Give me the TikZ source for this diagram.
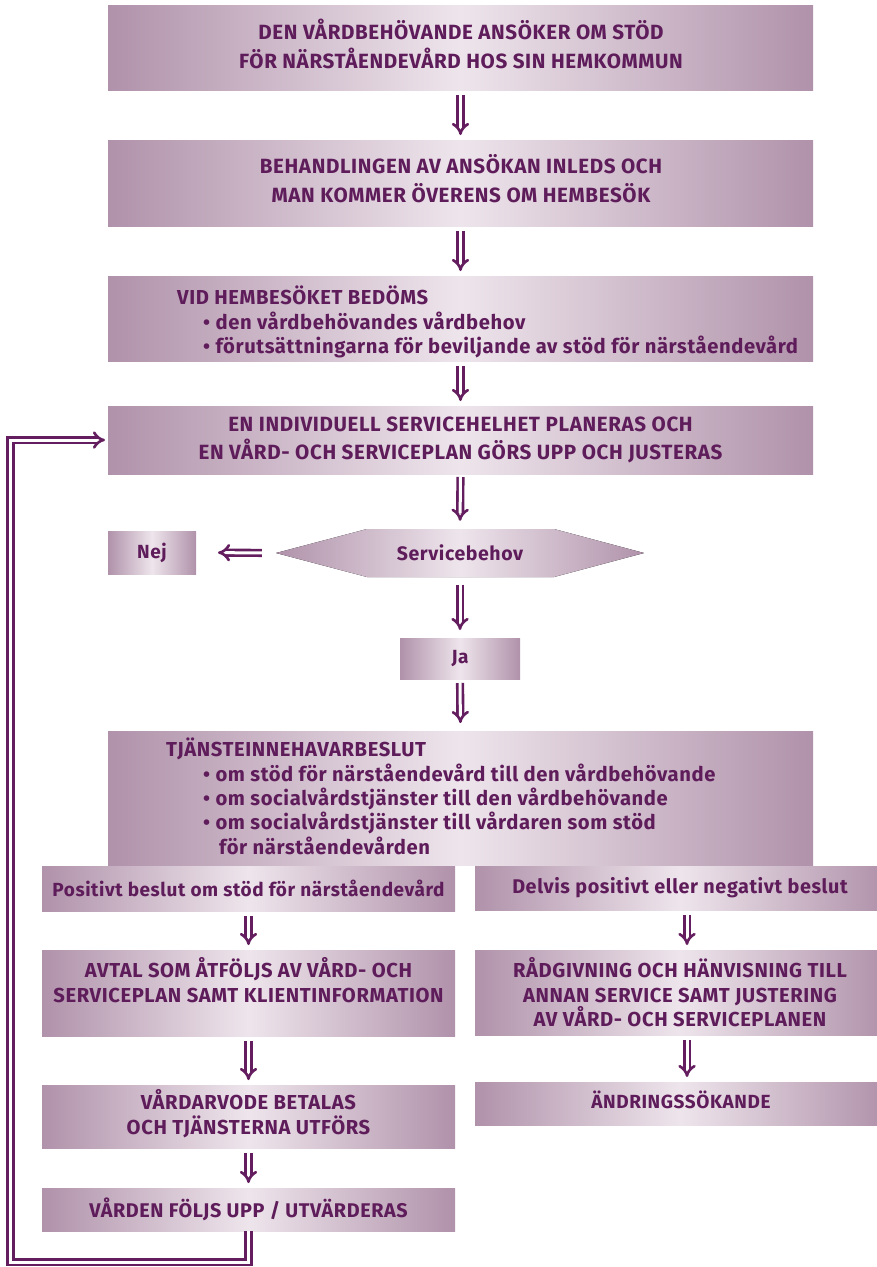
\documentclass[tikz,border=0pt]{standalone}
\usepackage{fontspec}
\setmainfont{Fira Sans}[LetterSpace=3]
\usetikzlibrary{arrows.meta}
\definecolor{txt}{RGB}{94,28,90}
\definecolor{edge}{RGB}{176,146,170}
\definecolor{mid}{RGB}{238,229,236}
\definecolor{arr}{RGB}{100,30,95}
\begin{document}
\begin{tikzpicture}[x=1pt,y=-1pt,
  box/.style={rectangle, inner sep=0pt, outer sep=0pt, anchor=north west,
    left color=edge, right color=edge, middle color=mid,
    text=txt, font=\bfseries\fontsize{19}{29}\selectfont, align=center},
  ctxt/.style={inner sep=0pt, text=txt, align=center},
  big/.style={font=\bfseries\fontsize{20.6}{29}\selectfont},
  lbl/.style={inner sep=0pt, text=txt, font=\bfseries\fontsize{20.2}{24.3}\selectfont, align=left, anchor=north west},
  dbl/.style={draw=arr, double=white, double distance=3pt, line width=2.6pt,
    -{Implies[length=7pt,width=17pt]}, shorten <=5pt, shorten >=5pt}]
\useasboundingbox (0,0) rectangle (877,1267);

% main column
\node[box, minimum width=705pt, minimum height=85pt] (b1) at (108,5) {};
\node[ctxt, big] (b1t) at (461,44)
  {DEN VÅRDBEHÖVANDE ANSÖKER OM STÖD\\FÖR NÄRSTÅENDEVÅRD HOS SIN HEMKOMMUN};
\node[box, minimum width=705pt, minimum height=86pt] (b2) at (108,140) {};
\node[ctxt, big] (b2t) at (461,179)
  {BEHANDLINGEN AV ANSÖKAN INLEDS OCH\\MAN KOMMER ÖVERENS OM HEMBESÖK};
\node[box, minimum width=705pt, minimum height=85pt] (b3) at (108,276) {};
\node[lbl] (t3) at (177,286)
  {VID HEMBESÖKET BEDÖMS\\
   \hspace*{26pt}• den vårdbehövandes vårdbehov\\
   \hspace*{26pt}• förutsättningarna för beviljande av stöd för närståendevård};
\node[box, font=\bfseries\fontsize{20.6}{28}\selectfont, minimum width=705pt, minimum height=68pt] (b4) at (108,406)
  {EN INDIVIDUELL SERVICEHELHET PLANERAS OCH\\EN VÅRD- OCH SERVICEPLAN GÖRS UPP OCH JUSTERAS};

% decision
\fill[left color=edge, right color=edge, middle color=mid]
  (276,553) -- (367,529) -- (554,529) -- (644,553) -- (554,577) -- (367,577) -- cycle;
\node[inner sep=0pt, minimum width=368pt, minimum height=48pt, text=txt,
  font=\bfseries\fontsize{19.5}{24}\selectfont] (sb) at (460,553) {Servicebehov};
\node[box, minimum width=88pt, minimum height=43pt] (nej) at (108,531) {Nej};
\node[box, minimum width=120pt, minimum height=41pt] (ja) at (400,638) {Ja};

\node[box, minimum width=705pt, minimum height=134pt] (b5) at (108,731) {};
\node[lbl] (t5) at (166,738)
  {TJÄNSTEINNEHAVARBESLUT\\
   \hspace*{37pt}• om stöd för närståendevård till den vårdbehövande\\
   \hspace*{37pt}• om socialvårdstjänster till den vårdbehövande\\
   \hspace*{37pt}• om socialvårdstjänster till vårdaren som stöd\\
   \hspace*{53pt}för närståendevården};

% left column
\node[box, minimum width=413pt, minimum height=45pt] (l1) at (42,866)
  {Positivt beslut om stöd för närståendevård};
\node[box, minimum width=413pt, minimum height=86pt] (l2) at (42,950) {};
\node[ctxt, font=\bfseries\fontsize{20.2}{25}\selectfont] (l2t) at (248.5,980)
  {AVTAL SOM ÅTFÖLJS AV VÅRD- OCH\\SERVICEPLAN SAMT KLIENTINFORMATION};
\node[box, minimum width=413pt, minimum height=63pt] (l3) at (42,1085) {};
\node[ctxt, font=\bfseries\fontsize{20.2}{25}\selectfont] (l3t) at (248.5,1113.5)
  {VÅRDARVODE BETALAS\\OCH TJÄNSTERNA UTFÖRS};
\node[box, minimum width=413pt, minimum height=43pt, font=\bfseries\fontsize{19.8}{25}\selectfont] (l4) at (42,1188)
  {VÅRDEN FÖLJS UPP / UTVÄRDERAS};

% right column
\node[box, minimum width=410pt, minimum height=44pt, font=\bfseries\fontsize{19.8}{25}\selectfont] (r1) at (475,866)
  {Delvis positivt eller negativt beslut};
\node[box, minimum width=410pt, minimum height=85pt, font=\bfseries\fontsize{20.2}{24.5}\selectfont] (r2) at (475,950)
  {RÅDGIVNING OCH HÄNVISNING TILL\\ANNAN SERVICE SAMT JUSTERING\\AV VÅRD- OCH SERVICEPLANEN};
\node[box, minimum width=410pt, minimum height=43pt] (r3) at (475,1082) {};
\node[ctxt, font=\bfseries\fontsize{19}{24}\selectfont] (r3t) at (681,1100) {ÄNDRINGSSÖKANDE};

% connectors
\draw[dbl] (b1) -- (b2);
\draw[dbl] (b2) -- (b3);
\draw[dbl] (b3) -- (b4);
\draw[dbl, shorten <=3pt, shorten >=8pt] (b4.south) -- (sb.north);
\draw[dbl, shorten <=14pt, shorten >=22pt] (sb.west) -- (nej.east);
\draw[dbl, shorten <=8pt, shorten >=8pt] (sb.south) -- (ja.north);
\draw[dbl, shorten <=4pt, shorten >=8pt] (ja.south) -- (b5.north);
\draw[dbl] (l1) -- (l2);
\draw[dbl] (l2) -- (l3);
\draw[dbl] (l3) -- (l4);
\draw[dbl] ([xshift=7pt]r1.south) -- ([xshift=7pt]r2.north);
\draw[dbl] ([xshift=7pt]r2.south) -- ([xshift=7pt]r3.north);
\coordinate (lb) at (248.5,1262);
\coordinate (lc) at (10.5,1262);
\draw[dbl, shorten <=0pt, shorten >=3pt] (l4.south) -- (lb) -- (lc) |- (b4.west);
\end{tikzpicture}
\end{document}
